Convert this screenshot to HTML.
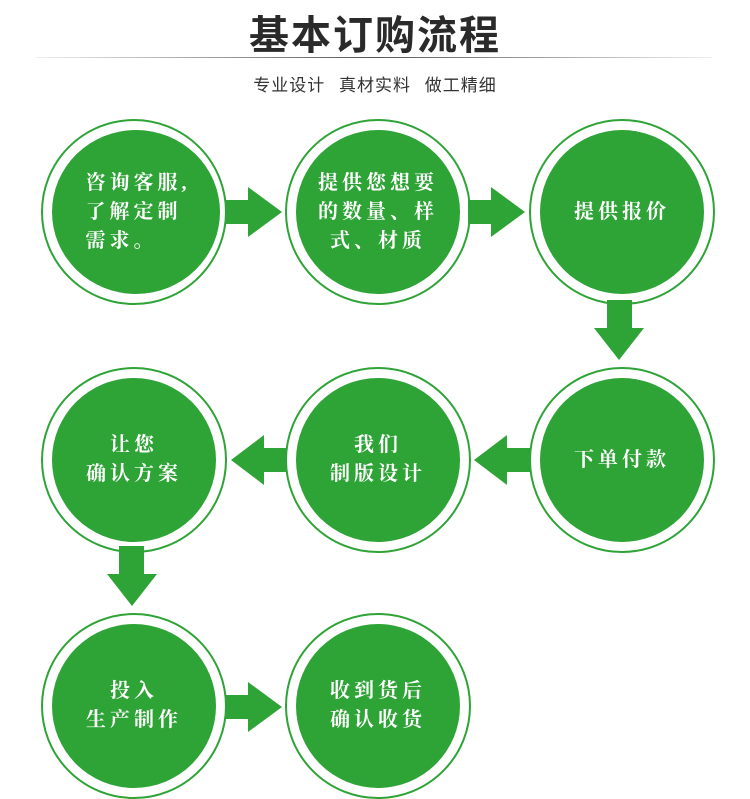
<!DOCTYPE html>
<html><head><meta charset="utf-8"><style>
body{margin:0;width:750px;height:750px;background:#fff;overflow:hidden;position:relative;font-family:"Liberation Sans","Noto Sans CJK SC",sans-serif}
.t{position:absolute;left:0;width:750px;text-align:center;top:3px;font-size:40px;font-weight:bold;color:#2a2a2a;letter-spacing:2px}
.line{position:absolute;left:36px;width:676px;top:57px;height:1px;background:linear-gradient(90deg,#eee,#555 50%,#eee)}
.s{position:absolute;left:0;width:750px;text-align:center;top:71px;font-size:17px;color:#333;letter-spacing:1px;word-spacing:8px}
.c{position:absolute;width:186px;height:186px;border:2px solid #2ea336;border-radius:50%;box-sizing:border-box}
.c div{position:absolute;left:9px;top:9px;width:164px;height:164px;border-radius:50%;background:#2ea336;display:flex;align-items:center;justify-content:center;color:#fff;font-family:"Liberation Serif","Noto Serif CJK SC",serif;font-weight:bold;font-size:20px;letter-spacing:4px;line-height:29px;text-align:center}
svg{position:absolute;left:0;top:0}
</style></head><body>
<div class="t">基本订购流程</div>
<div class="line"></div>
<div class="s">专业设计 真材实料 做工精细</div>
<svg width="750" height="750"><g fill="#2ea336">
<polygon points="225,200 248,200 248,187 282,212 248,237 248,224 225,224"/>
<polygon points="468,200 491,200 491,187 525,212 491,237 491,224 468,224"/>
<polygon points="607,300 632,300 632,328 644,328 619,360 594,328 607,328"/>
<polygon points="530,448 507,448 507,435 474,460 507,485 507,472 530,472"/>
<polygon points="287,448 264,448 264,435 231,460 264,485 264,472 287,472"/>
<polygon points="119,546 144,546 144,574 157,574 132,606 107,574 119,574"/>
<polygon points="225,695 248,695 248,682 282,707 248,732 248,719 225,719"/>
</g></svg>
<div class="c" style="left:41px;top:119px"><div style="text-align:left;padding-left:4px">咨询客服,<br>了解定制<br>需求。</div></div>
<div class="c" style="left:285px;top:119px"><div>提供您想要<br>的数量、样<br>式、材质</div></div>
<div class="c" style="left:529px;top:119px"><div>提供报价</div></div>
<div class="c" style="left:41px;top:367px"><div>让您<br>确认方案</div></div>
<div class="c" style="left:285px;top:367px"><div>我们<br>制版设计</div></div>
<div class="c" style="left:529px;top:367px"><div>下单付款</div></div>
<div class="c" style="left:41px;top:613px"><div>投入<br>生产制作</div></div>
<div class="c" style="left:285px;top:613px"><div>收到货后<br>确认收货</div></div>
</body></html>
